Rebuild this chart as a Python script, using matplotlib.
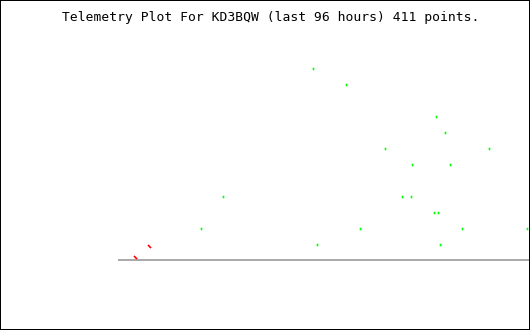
import matplotlib
matplotlib.use("Agg")
import matplotlib.pyplot as plt
from matplotlib.patches import Rectangle

title = "Telemetry Plot For KD3BQW (last 96 hours) 411 points."

# green series: hours (0..96 across the plot) and value levels
green_hours = [45.4, 53.1, 24.5, 19.3, 56.4, 46.4, 74.1, 76.2, 62.2, 86.4,
               68.5, 77.4, 66.2, 68.3, 73.6, 74.6, 80.2, 95.3, 75.0]
green_vals = [12, 11, 4, 2, 2, 1, 9, 8, 7, 7,
              6, 6, 4, 4, 3, 3, 2, 2, 1]

# red series
red_hours = [4.0, 7.2]
red_vals = [0.25, 0.94]

W, H = 530, 330
fig = plt.figure(figsize=(W / 100, H / 100), dpi=100)
fig.patch.set_facecolor("white")

left_px, right_px = 118, 530
base_px, top_px = 261, 21
ax = fig.add_axes([left_px / W, (H - base_px) / H,
                   (right_px - left_px) / W, (base_px - top_px) / H])
ax.set_xlim(0, 96)
ax.set_ylim(0, 15)
ax.set_axis_off()

ax.axhline(0, color="#aaaaaa", lw=1.6, zorder=1, antialiased=False)

ax.plot(green_hours, green_vals, linestyle="none", marker="s",
        ms=1.1, mew=0, color="#00ff00", zorder=3, antialiased=False)
ax.plot(green_hours, [v + 0.04 for v in green_vals], linestyle="none", marker="s",
        ms=1.1, mew=0, color="#00ff00", zorder=3, antialiased=False)

ax.plot(red_hours, red_vals, linestyle="none",
        marker=[(-1, 1), (1, -1)], ms=2.2, mew=1.2, color="#ff0000", zorder=3)

fig.text(271 / W, 1 - 18 / H, title, ha="center", va="center",
         family="DejaVu Sans Mono", fontsize=9.4, color="black")

fig.patches.append(Rectangle((0, 0), 1, 1, transform=fig.transFigure,
                             fill=False, ec="black", lw=1.44, zorder=10))

fig.savefig("out.png", dpi=100, facecolor="white")
